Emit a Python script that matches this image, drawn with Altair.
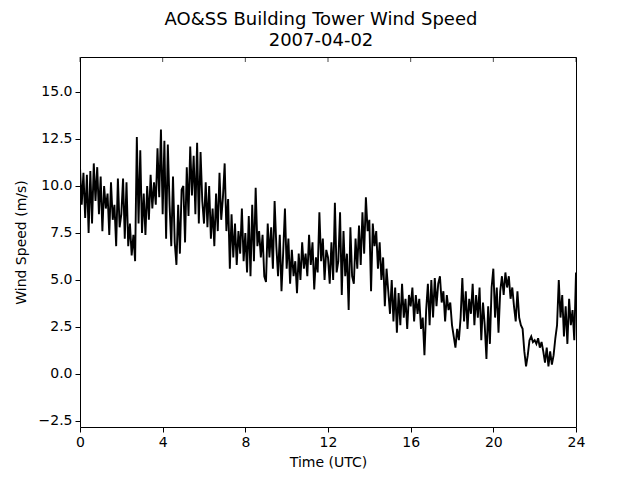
import altair as alt
import pandas as pd

# Wind speed (m/s), 5-minute samples, one list per UTC hour (12 values each)
h00 = [11.0, 9.0, 10.7, 8.3, 10.6, 7.5, 10.8, 8.0, 11.2, 9.2, 11.0, 8.5]
h01 = [10.5, 7.6, 10.0, 8.8, 9.6, 7.4, 10.2, 8.2, 9.0, 6.8, 10.4, 7.8]
h02 = [8.5, 10.4, 7.2, 10.2, 6.8, 8.0, 6.3, 7.4, 6.0, 12.6, 8.0, 11.9]
h03 = [7.5, 9.6, 7.4, 10.0, 8.2, 10.6, 8.8, 10.2, 9.0, 12.0, 9.4, 13.0]
h04 = [8.5, 12.4, 7.2, 12.2, 9.0, 6.8, 10.5, 7.0, 5.8, 9.0, 6.4, 9.8]
h05 = [10.0, 7.0, 11.0, 8.4, 12.1, 9.5, 11.6, 8.5, 12.3, 8.0, 11.8, 9.2]
h06 = [8.0, 10.2, 7.8, 10.0, 7.2, 8.8, 6.8, 9.6, 7.6, 10.7, 8.2, 9.4]
h07 = [11.2, 7.6, 9.3, 5.6, 8.5, 6.2, 8.0, 5.8, 7.6, 6.4, 8.8, 6.0]
h08 = [7.5, 5.4, 8.4, 5.2, 9.0, 6.0, 9.9, 6.8, 7.6, 6.2, 7.4, 5.2]
h09 = [4.9, 8.0, 6.2, 7.8, 5.6, 9.2, 6.8, 5.2, 7.4, 4.4, 6.5, 8.8]
h10 = [5.6, 7.2, 4.8, 6.6, 5.2, 6.0, 4.3, 6.4, 5.0, 7.0, 5.6, 6.4]
h11 = [5.2, 7.4, 5.8, 7.0, 4.5, 6.2, 5.4, 8.6, 6.0, 7.2, 5.0, 6.6]
h12 = [6.2, 4.8, 7.0, 5.0, 9.1, 5.4, 6.0, 8.6, 4.2, 7.6, 5.2, 6.4]
h13 = [3.4, 7.8, 5.2, 4.8, 7.2, 5.6, 7.9, 5.8, 8.6, 6.4, 9.4, 7.6]
h14 = [8.2, 4.4, 8.0, 6.8, 7.6, 5.6, 7.0, 5.0, 6.2, 3.6, 5.6, 4.4]
h15 = [3.2, 5.0, 2.8, 4.6, 2.2, 4.3, 2.6, 4.8, 3.0, 4.0, 2.4, 4.2]
h16 = [3.6, 4.6, 2.8, 4.2, 3.2, 4.0, 2.4, 3.0, 1.0, 3.4, 4.8, 2.6]
h17 = [5.0, 3.0, 5.1, 3.6, 4.8, 5.2, 3.8, 4.4, 2.8, 4.2, 3.4, 3.8]
h18 = [2.6, 2.0, 1.4, 2.4, 1.8, 3.0, 5.1, 2.8, 4.4, 2.4, 4.0, 3.2]
h19 = [4.8, 2.6, 4.2, 3.0, 4.6, 1.8, 3.8, 2.6, 0.8, 3.6, 1.6, 4.6]
h20 = [5.6, 3.0, 4.6, 2.2, 4.4, 5.2, 4.2, 5.4, 4.6, 5.2, 4.0, 4.6]
h21 = [3.6, 2.8, 4.4, 3.0, 2.6, 2.4, 1.2, 0.4, 1.0, 1.8, 2.0, 1.7]
h22 = [1.8, 1.6, 1.9, 1.4, 1.7, 1.2, 0.6, 1.4, 0.4, 1.2, 0.5, 1.0]
h23 = [1.9, 2.6, 5.0, 3.0, 4.2, 2.0, 3.6, 1.6, 4.0, 2.6, 3.4, 1.8]
h24 = [5.4]

hours = [h00, h01, h02, h03, h04, h05, h06, h07, h08, h09, h10, h11,
         h12, h13, h14, h15, h16, h17, h18, h19, h20, h21, h22, h23, h24]

speeds = [v for h in hours for v in h]
times = [i / 12 for i in range(len(speeds))]

x_ticks = [0, 4, 8, 12, 16, 20, 24]
y_ticks = [-2.5, 0.0, 2.5, 5.0, 7.5, 10.0, 12.5, 15.0]

df = pd.DataFrame({"t": times, "ws": speeds})

font = "DejaVu Sans"

chart = alt.Chart(df).mark_line(color="black", strokeWidth=1.9, clip=True).encode(
    x=alt.X("t:Q", scale=alt.Scale(domain=[0, 24], nice=False, zero=False),
            axis=alt.Axis(values=x_ticks, format="d", title="Time (UTC)",
                          grid=False, domain=False, tickColor="black",
                          tickSize=5, labelFontSize=14, titleFontSize=14,
                          labelFont=font, titleFont=font, labelColor="black",
                          titleColor="black", titleFontWeight="normal",
                          labelFlush=False, labelPadding=3, titlePadding=6)),
    y=alt.Y("ws:Q", scale=alt.Scale(domain=[-2.82, 16.86], nice=False, zero=False),
            axis=alt.Axis(values=y_ticks, format=".1f", title="Wind Speed (m/s)",
                          grid=False, domain=False, tickColor="black",
                          tickSize=5, labelFontSize=14, titleFontSize=14,
                          labelFont=font, titleFont=font, labelColor="black",
                          titleColor="black", titleFontWeight="normal",
                          labelFlush=False, labelPadding=3, titlePadding=10)),
)

top_ticks = alt.Chart(pd.DataFrame({"t": x_ticks})).mark_tick(
    color="black", orient="vertical", size=5, thickness=1
).encode(
    x=alt.X("t:Q", scale=alt.Scale(domain=[0, 24], nice=False, zero=False)),
    y=alt.value(2.5),
)

layered = alt.layer(chart, top_ticks).properties(
    width=496, height=370,
    title=alt.Title(text=["AO&SS Building Tower Wind Speed", "2007-04-02"],
                    font=font, fontSize=18, fontWeight="normal", color="black",
                    lineHeight=21, offset=7, anchor="middle", dx=-7),
    autosize=alt.AutoSizeParams(type="none"),
    padding={"left": 72, "top": 49, "right": 56, "bottom": 45},
).configure_view(stroke="black", strokeWidth=1)

layered.save("out.html", embed_options={"renderer": "svg", "actions": False})
